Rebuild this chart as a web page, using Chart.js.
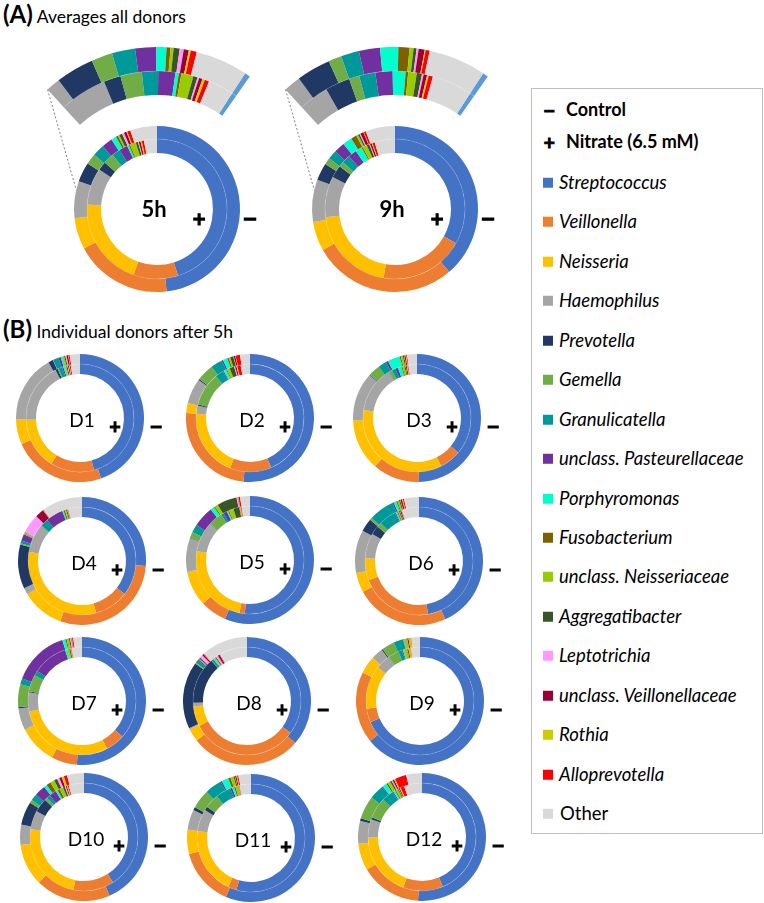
<!DOCTYPE html>
<html>
<head>
<meta charset="utf-8">
<script src="https://cdn.jsdelivr.net/npm/chart.js@4/dist/chart.umd.min.js"></script>
<style>
body { margin: 0; background: #fff; font-family: Lato, "Open Sans", sans-serif; color: #000; }
#page { position: relative; width: 764px; height: 903px; overflow: hidden; }
#page canvas { position: absolute; }
.lbl { position: absolute; transform: translate(-50%, -50%); white-space: nowrap; line-height: 1; }
.sign { font-family: "DejaVu Sans", sans-serif; font-weight: bold; -webkit-text-stroke: 1.2px #000; }
.head { position: absolute; left: 3px; font-size: 17.5px; white-space: nowrap; }
.head b { font-size: 24px; }
#legend { position: absolute; left: 531px; top: 88px; width: 230px; height: 744px; border: 1px solid #bfbfbf; }
.item { position: absolute; left: 11px; font-size: 18.5px; white-space: nowrap; transform: translateY(-50%); line-height: 1; }
.item i.sw { display: inline-block; width: 10px; height: 10px; margin-right: 6px; vertical-align: 1px; }
.item span { font-style: italic; }
.item .mark { display: inline-block; width: 23px; font-family: "DejaVu Sans", sans-serif; font-weight: bold; font-size: 15px; -webkit-text-stroke: 1px #000; }
.item .key { font-weight: bold; font-size: 18px; }
</style>
</head>
<body>
<div id="page">
	<div class="head" style="top:-1px"><b>(A)</b> Averages all donors</div>
	<div class="head" style="top:314px"><b>(B)</b> Individual donors after 5h</div>
	<div id="legend"></div>
</div>
<script>
const genera = ["Streptococcus", "Veillonella", "Neisseria", "Haemophilus", "Prevotella", "Gemella", "Granulicatella",
	"unclass. Pasteurellaceae", "Porphyromonas", "Fusobacterium", "unclass. Neisseriaceae", "Aggregatibacter",
	"Leptotrichia", "unclass. Veillonellaceae", "Rothia", "Alloprevotella", "Other"]
const colors = ["#4472c4", "#ed7d31", "#ffc000", "#a5a5a5", "#203864", "#70ad47", "#009999",
	"#7030a0", "#00ffcc", "#7f6000", "#99cc00", "#375623",
	"#ff99ff", "#990033", "#cccc00", "#ff0000", "#d9d9d9"]
const zoomColors = ["#5b9bd5"].concat(colors.slice(1))

// relative abundance (%) - outer ring control, inner ring nitrate
const avg5hControl = [48.0, 18.9, 6.1, 7.2, 3.8, 2.1, 2.3, 2.1, 1.0, 0.4, 0.3, 0.6, 0.4, 0.5, 0.2, 0.6, 5.2]
const avg5hNitrate = [45.0, 10.3, 20.5, 8.5, 2.0, 2.5, 1.9, 2.0, 0.4, 0.3, 1.4, 0.5, 0.2, 0.4, 0.3, 0.5, 3.0]
const avg9hControl = [38.5, 28.0, 5.7, 8.2, 3.4, 1.3, 1.8, 2.1, 1.8, 1.1, 0.4, 0.3, 0.2, 0.6, 0.1, 0.4, 5.7]
const avg9hNitrate = [33.0, 19.4, 20.4, 9.4, 2.9, 1.2, 1.9, 2.0, 1.5, 0.3, 1.0, 0.6, 0.2, 0.4, 0.2, 0.5, 4.7]

const d1Control = [44.7, 23.7, 6.3, 17.2, 1.2, 0.1, 1.4, 0.6, 0.4, 0.1, 0.4, 0.3, 0.3, 0.4, 0.1, 0.3, 2.6]
const d1Nitrate = [45.8, 13.1, 15.6, 18.0, 0.7, 0.3, 1.1, 0.4, 0.4, 0.1, 0.4, 0.3, 0.2, 0.3, 0.2, 0.3, 2.8]
const d2Control = [51.5, 24.5, 2.5, 6.4, 0.3, 4.3, 2.9, 0.4, 1.1, 0.4, 0.4, 0.8, 0.1, 0.4, 0.1, 1.1, 2.5]
const d2Nitrate = [43.6, 12.5, 20.2, 2.5, 0.4, 10.0, 2.5, 0.3, 0.8, 0.3, 0.8, 1.4, 0.3, 0.4, 0.3, 1.0, 2.8]
const d3Control = [49.6, 11.9, 13.0, 12.4, 0.2, 2.9, 2.1, 0.6, 3.1, 0.3, 0.5, 0.3, 0.1, 0.3, 0.2, 0.2, 2.5]
const d3Nitrate = [36.1, 6.5, 34.8, 13.8, 0.1, 1.0, 1.1, 0.8, 1.1, 0.3, 0.6, 0.3, 0.1, 0.3, 0.3, 0.2, 2.6]
const d4Control = [26.3, 29.4, 10.8, 1.7, 11.2, 0.3, 0.7, 1.7, 0.1, 0.1, 0.3, 0.1, 4.9, 2.2, 0.1, 0.1, 10.3]
const d4Nitrate = [35.4, 10.3, 31.9, 8.5, 0.1, 0.1, 2.3, 5.2, 0.4, 0.4, 0.4, 0.3, 0.1, 0.1, 0.1, 0.1, 4.1]
const d5Control = [56.4, 6.7, 8.9, 8.6, 0.1, 1.5, 2.0, 5.3, 1.0, 0.3, 0.8, 5.0, 0.3, 0.1, 0.1, 0.4, 2.5]
const d5Nitrate = [51.6, 1.6, 24.5, 9.1, 0.1, 4.2, 0.8, 1.1, 0.4, 0.3, 1.4, 1.8, 0.1, 0.1, 0.3, 0.2, 2.5]
const d6Control = [43.4, 23.8, 5.0, 10.9, 3.3, 0.6, 6.4, 0.4, 0.7, 0.3, 0.4, 0.3, 0.1, 0.4, 0.2, 0.3, 3.8]
const d6Nitrate = [47.3, 21.9, 6.6, 7.5, 2.7, 1.4, 5.2, 0.3, 0.4, 0.3, 0.3, 0.3, 0.1, 0.3, 0.1, 0.1, 5.2]
const d7Control = [51.4, 6.5, 9.8, 5.6, 0.3, 5.8, 1.5, 14.3, 0.8, 0.3, 0.6, 0.3, 0.3, 0.1, 0.1, 0.3, 2.2]
const d7Nitrate = [36.5, 5.8, 29.6, 5.7, 0.3, 5.0, 1.5, 10.5, 0.6, 0.1, 0.6, 0.3, 0.1, 0.1, 0.1, 0.1, 3.1]
const d8Control = [36.4, 28.0, 3.3, 0.3, 17.0, 0.3, 0.7, 0.3, 0.1, 0.1, 0.1, 0.3, 0.8, 0.4, 0.1, 0.1, 11.7]
const d8Nitrate = [35.0, 32.3, 6.0, 1.1, 14.0, 0.1, 0.6, 0.1, 0.3, 0.1, 0.3, 0.3, 0.6, 0.6, 0.1, 0.1, 8.3]
const d9Control = [64.1, 18.1, 4.4, 3.0, 0.3, 3.2, 2.4, 0.1, 0.1, 0.1, 0.6, 0.1, 0.1, 0.3, 0.6, 0.1, 2.2]
const d9Nitrate = [68.6, 4.1, 13.0, 4.5, 0.1, 3.1, 1.1, 0.3, 0.3, 0.1, 0.8, 0.1, 0.1, 0.3, 0.7, 0.1, 2.7]
const d10Control = [43.5, 19.0, 10.6, 5.1, 5.9, 0.8, 1.7, 2.8, 0.8, 1.1, 1.1, 0.8, 0.6, 0.6, 0.6, 0.8, 4.3]
const d10Nitrate = [41.0, 12.2, 24.2, 5.6, 4.2, 0.8, 1.1, 2.2, 0.6, 0.7, 1.1, 0.6, 0.3, 0.3, 0.3, 0.3, 4.6]
const d11Control = [56.4, 14.6, 6.1, 5.1, 0.8, 4.8, 4.3, 0.4, 1.7, 0.6, 0.8, 0.3, 0.1, 0.3, 0.2, 0.3, 3.2]
const d11Nitrate = [54.3, 2.6, 20.1, 6.6, 1.1, 4.3, 4.6, 0.6, 0.6, 0.4, 0.8, 0.1, 0.1, 0.1, 0.1, 0.1, 3.4]
const d12Control = [51.0, 15.5, 6.8, 5.8, 0.6, 5.9, 3.6, 0.3, 1.1, 0.4, 0.7, 0.4, 0.3, 0.4, 0.3, 2.9, 4.0]
const d12Nitrate = [43.8, 12.0, 19.2, 5.5, 0.6, 6.3, 3.5, 0.3, 0.6, 0.3, 0.6, 0.3, 0.1, 0.3, 0.3, 1.1, 5.4]

const page = document.getElementById("page")

// clip the magnified rings to their window, draw the faint line between rings
const ringPlugin = {
	id: "rings",
	beforeDatasetDraw(chart, args) {
		const ds = chart.data.datasets[args.index]
		if (!ds.zoomWindow) return
		const arc = args.meta.data[0]
		const ctx = chart.ctx
		ctx.save()
		ctx.beginPath()
		ctx.moveTo(arc.x, arc.y)
		ctx.arc(arc.x, arc.y, 400, (ds.zoomWindow[0] - 90) * Math.PI / 180, (ds.zoomWindow[1] - 90) * Math.PI / 180)
		ctx.closePath()
		ctx.clip()
	},
	afterDatasetDraw(chart, args) {
		const ds = chart.data.datasets[args.index]
		const ctx = chart.ctx
		if (ds.separator) {
			const arc = args.meta.data[0]
			ctx.save()
			ctx.strokeStyle = "rgba(255,255,255,0.15)"
			ctx.lineWidth = 1
			ctx.beginPath()
			ctx.arc(arc.x, arc.y, args.meta.controller.innerRadius, 0, Math.PI * 2)
			ctx.stroke()
			ctx.restore()
		}
		if (ds.zoomWindow) ctx.restore()
	},
	afterDatasetsDraw(chart) {
		const zoomed = chart.data.datasets[0]
		if (!zoomed.zoomWindow) return
		const m0 = chart.getDatasetMeta(0)
		const m3 = chart.getDatasetMeta(3)
		const cx = m0.data[0].x, cy = m0.data[0].y
		const a1 = (zoomed.zoomWindow[0] - 90) * Math.PI / 180
		const a2 = (zoomed.zoomWindow[0] - zoomed.rotation - 90) * Math.PI / 180
		const r1 = m0.controller.outerRadius, r2 = m3.controller.outerRadius + 1
		const ctx = chart.ctx
		ctx.save()
		ctx.strokeStyle = "#808080"
		ctx.lineWidth = 1
		ctx.setLineDash([2, 2])
		ctx.beginPath()
		ctx.moveTo(cx + r1 * Math.cos(a1), cy + r1 * Math.sin(a1))
		ctx.lineTo(cx + r2 * Math.cos(a2), cy + r2 * Math.sin(a2))
		ctx.stroke()
		ctx.restore()
	}
}

function ringChart(cx, cy, radius, cutout, datasets) {
	const canvas = document.createElement("canvas")
	canvas.width = radius * 2
	canvas.height = radius * 2
	canvas.style.left = (cx - radius) + "px"
	canvas.style.top = (cy - radius) + "px"
	page.append(canvas)
	new Chart(canvas, {
		type: "doughnut",
		data: { labels: genera, datasets: datasets },
		options: {
			responsive: false,
			animation: false,
			events: [],
			cutout: cutout,
			layout: { padding: 0 },
			elements: { arc: { borderWidth: 0, hoverOffset: 0, offset: 0 } },
			plugins: { legend: { display: false }, tooltip: { enabled: false } },
		},
		plugins: [ringPlugin],
	})
}

function label(text, x, y, css, cls) {
	const div = document.createElement("div")
	div.className = "lbl" + (cls ? " " + cls : "")
	div.textContent = text
	div.style.left = x + "px"
	div.style.top = y + "px"
	Object.assign(div.style, css || {})
	page.append(div)
}

// averages with the magnified top-left section
const averages = [
	{ name: "5h", control: avg5hControl, nitrate: avg5hNitrate, x: 157, y: 209 },
	{ name: "9h", control: avg9hControl, nitrate: avg9hNitrate, x: 395, y: 209 },
]
averages.forEach(a => {
	ringChart(a.x, a.y, 162, 56, [
		{ data: a.control, backgroundColor: zoomColors, weight: 24, rotation: 33, zoomWindow: [-42.5, 35], separator: true },
		{ data: a.nitrate, backgroundColor: zoomColors, weight: 24, rotation: 33, zoomWindow: [-42.5, 35] },
		{ data: [1], backgroundColor: "rgba(0,0,0,0)", weight: 31 },
		{ data: a.control, backgroundColor: colors, weight: 13, separator: true },
		{ data: a.nitrate, backgroundColor: colors, weight: 14 },
	])
	label(a.name, a.x - 3, a.y, { fontWeight: "bold", fontSize: "22px" })
	label("+", a.x + 42, a.y + 10, { fontSize: "17px" }, "sign")
	label("\u2212", a.x + 93, a.y + 10, { fontSize: "18px" }, "sign")
})

const donors = [
	{ name: "D1", control: d1Control, nitrate: d1Nitrate, x: 80, y: 418 },
	{ name: "D2", control: d2Control, nitrate: d2Nitrate, x: 250, y: 418 },
	{ name: "D3", control: d3Control, nitrate: d3Nitrate, x: 417, y: 418 },
	{ name: "D4", control: d4Control, nitrate: d4Nitrate, x: 82, y: 561 },
	{ name: "D5", control: d5Control, nitrate: d5Nitrate, x: 250, y: 560 },
	{ name: "D6", control: d6Control, nitrate: d6Nitrate, x: 419, y: 561 },
	{ name: "D7", control: d7Control, nitrate: d7Nitrate, x: 82, y: 701 },
	{ name: "D8", control: d8Control, nitrate: d8Nitrate, x: 247, y: 701 },
	{ name: "D9", control: d9Control, nitrate: d9Nitrate, x: 420, y: 701 },
	{ name: "D10", control: d10Control, nitrate: d10Nitrate, x: 84, y: 837 },
	{ name: "D11", control: d11Control, nitrate: d11Nitrate, x: 251, y: 838 },
	{ name: "D12", control: d12Control, nitrate: d12Nitrate, x: 422, y: 837 },
]
donors.forEach(d => {
	ringChart(d.x, d.y, 64, 44, [
		{ data: d.control, backgroundColor: colors, weight: 10, separator: true },
		{ data: d.nitrate, backgroundColor: colors, weight: 10 },
	])
	label(d.name, d.x + 2, d.y + 1, { fontSize: "19px" })
	label("+", d.x + 35, d.y + 9, { fontSize: "15px" }, "sign")
	label("\u2212", d.x + 76, d.y + 9, { fontSize: "16px" }, "sign")
})

// legend
const legend = document.getElementById("legend")
function legendRow(y, html) {
	const div = document.createElement("div")
	div.className = "item"
	div.style.top = (y - 89) + "px"
	div.innerHTML = html
	legend.append(div)
}
legendRow(109, '<b class="mark">\u2212</b><b class="key">Control</b>')
legendRow(141, '<b class="mark">+</b><b class="key">Nitrate (6.5 mM)</b>')
genera.forEach((g, i) => {
	const text = g === "Other" ? '<b style="font-weight:normal;padding-left:1px">Other</b>' : "<span>" + g + "</span>"
	legendRow(182 + i * 39.44, '<i class="sw" style="background:' + colors[i] + '"></i>' + text)
})
</script>
</body>
</html>
